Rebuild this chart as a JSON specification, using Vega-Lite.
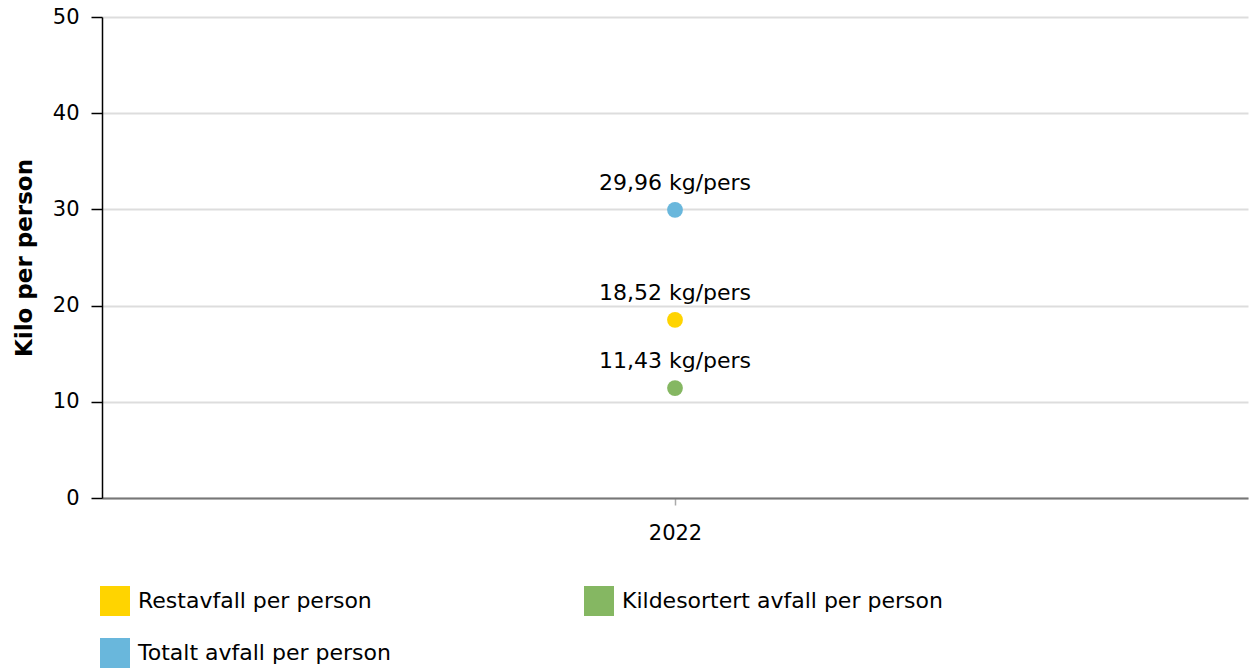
{
  "$schema": "https://vega.github.io/schema/vega-lite/v6.json",
  "autosize": "none",
  "width": 1146,
  "height": 481,
  "padding": {"left": 102, "top": 17, "right": 5, "bottom": 170},
  "background": "white",
  "config": {
    "font": "DejaVu Sans",
    "view": {"stroke": null}
  },
  "data": {
    "values": [
      {"year": "2022", "serie": "Restavfall per person", "verdi": 18.52, "tekst": "18,52 kg/pers"},
      {"year": "2022", "serie": "Kildesortert avfall per person", "verdi": 11.43, "tekst": "11,43 kg/pers"},
      {"year": "2022", "serie": "Totalt avfall per person", "verdi": 29.96, "tekst": "29,96 kg/pers"}
    ]
  },
  "encoding": {
    "x": {
      "field": "year", "type": "nominal",
      "axis": {
        "title": null, "labelAngle": 0, "labelFontSize": 21, "labelColor": "#000",
        "labelPadding": 17, "tickColor": "#aaa", "tickSize": 7, "tickWidth": 1.5,
        "domainColor": "#777", "domainWidth": 2, "grid": false
      }
    },
    "y": {
      "field": "verdi", "type": "quantitative",
      "scale": {"domain": [0, 50]},
      "axis": {
        "title": "Kilo per person", "titleFontSize": 23, "titleFontWeight": "bold", "titleColor": "#000",
        "titlePadding": 16, "values": [0, 10, 20, 30, 40, 50],
        "labelFontSize": 21, "labelColor": "#000", "labelPadding": 12,
        "tickColor": "#000", "tickSize": 11, "tickWidth": 1.5,
        "domainColor": "#000", "domainWidth": 1.5,
        "gridColor": "#dddddd", "gridWidth": 2
      }
    }
  },
  "layer": [
    {
      "mark": {"type": "circle", "size": 250, "opacity": 1},
      "encoding": {
        "color": {
          "field": "serie", "type": "nominal",
          "scale": {
            "domain": ["Restavfall per person", "Kildesortert avfall per person", "Totalt avfall per person"],
            "range": ["#FFD400", "#85B762", "#69B7DC"]
          },
          "legend": {
            "title": null, "orient": "none", "legendX": -2, "legendY": 569,
            "direction": "horizontal", "columns": 2, "columnPadding": 193, "rowPadding": 22,
            "symbolType": "square", "symbolSize": 900, "symbolStrokeWidth": 0, "symbolOpacity": 1,
            "labelFontSize": 22, "labelColor": "#000", "labelOffset": 8, "labelLimit": 400
          }
        }
      }
    },
    {
      "mark": {"type": "text", "fontSize": 22, "dy": -27, "color": "#000"},
      "encoding": {"text": {"field": "tekst"}}
    }
  ]
}
